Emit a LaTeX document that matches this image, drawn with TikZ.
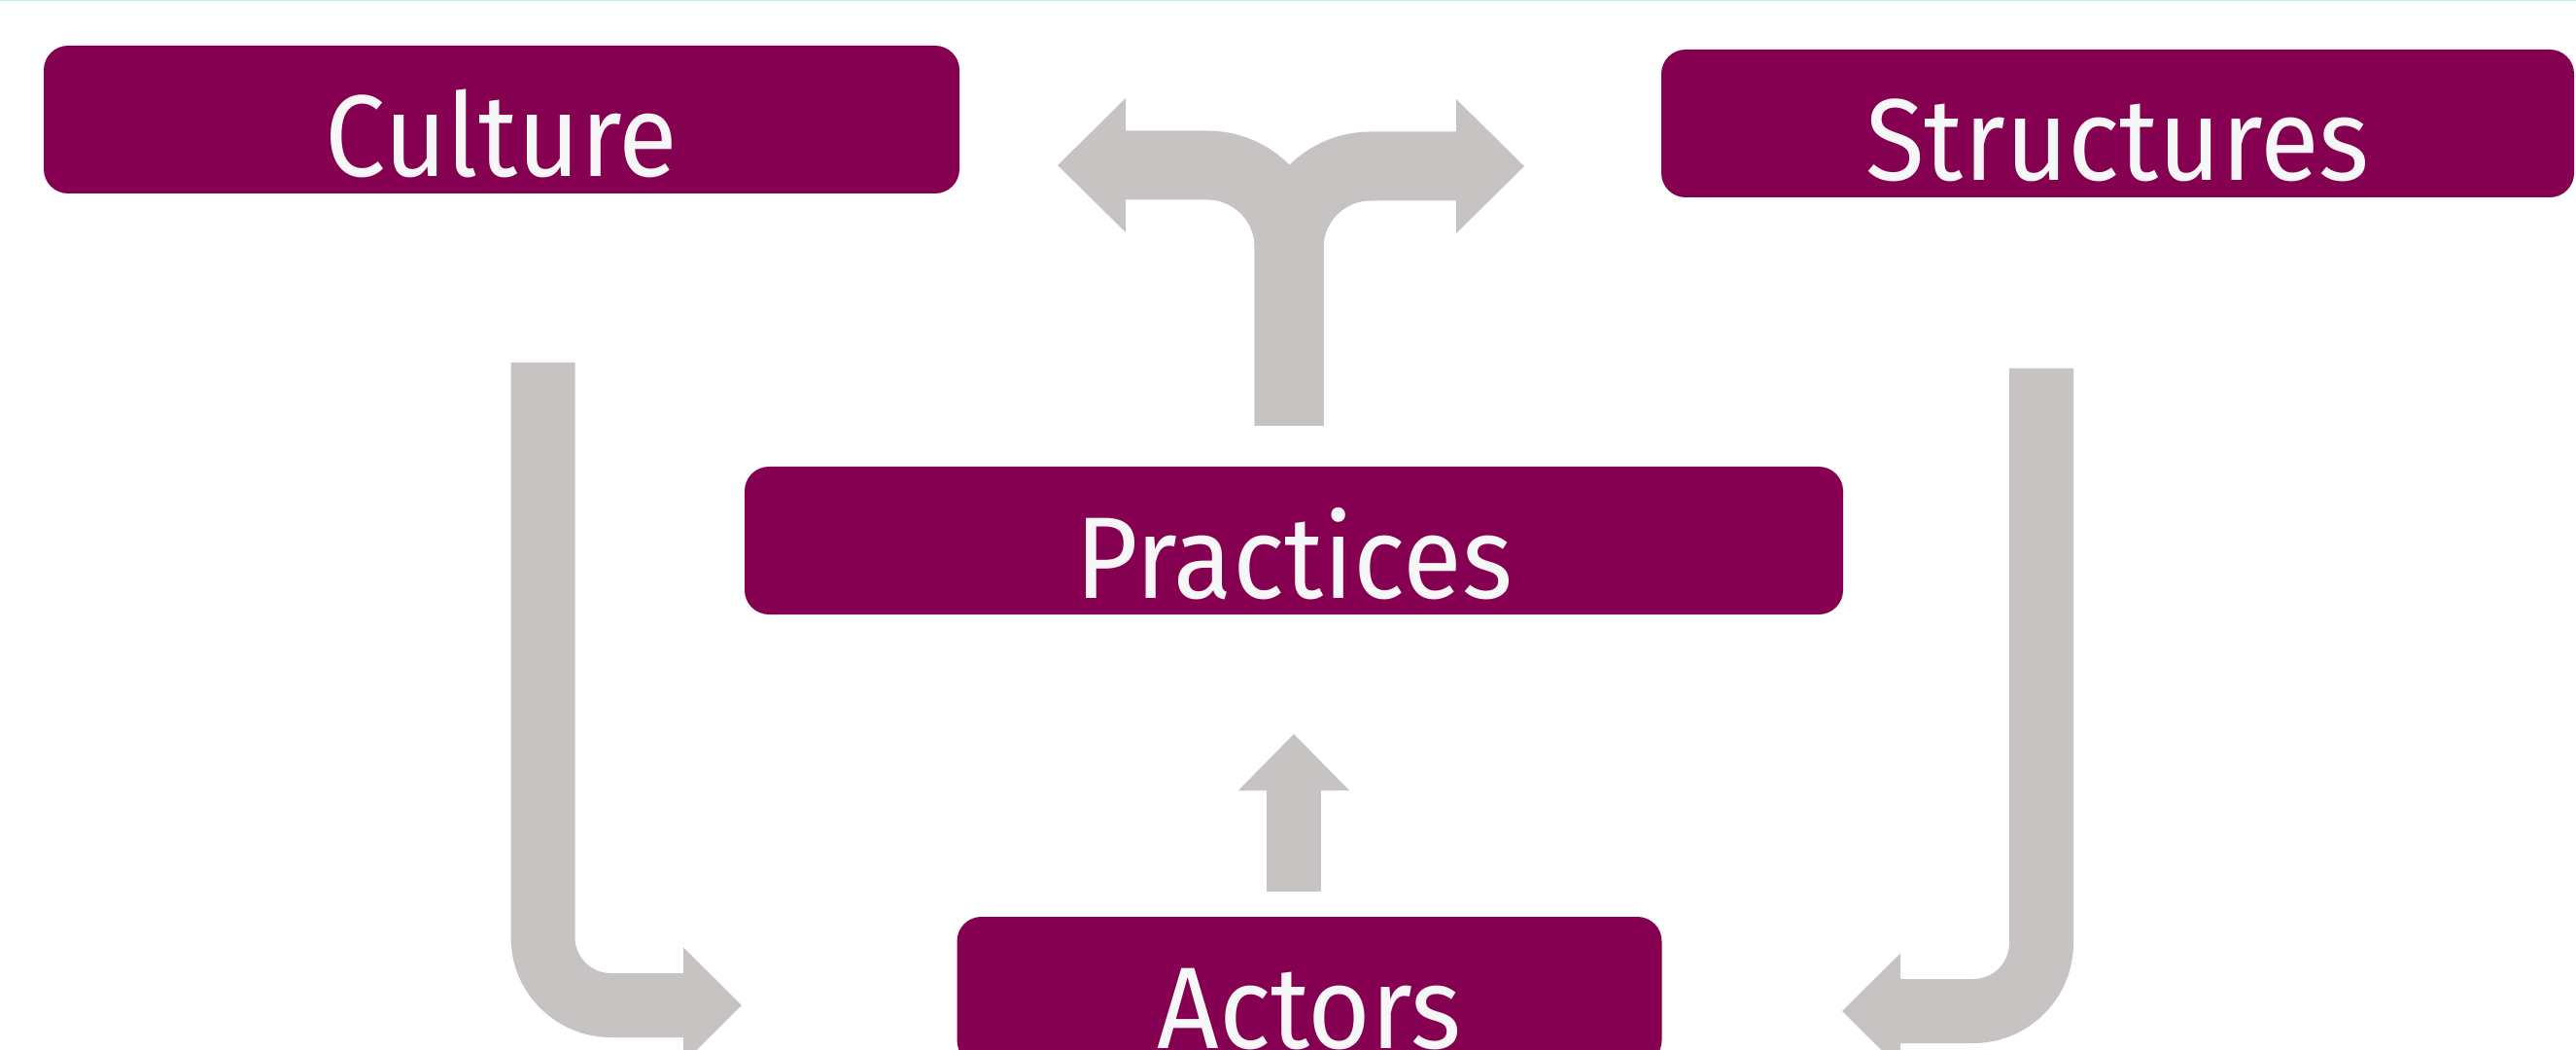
\documentclass[tikz,border=0pt]{standalone}
\usepackage{fontspec}
\setmainfont{Fira Sans}[FakeStretch=0.93]
\usetikzlibrary{arrows.meta}
\definecolor{plum}{RGB}{133,0,80}
\definecolor{flowgrey}{RGB}{200,195,195}
\definecolor{rimblue}{RGB}{197,234,242}

\begin{document}
\begin{tikzpicture}[
    box/.style={fill=plum, rounded corners=0.25cm, text={rgb,255:red,247;green,247;blue,247},
        font=\fontsize{34}{40}\selectfont, inner sep=0pt,
        text height=1.18cm, text depth=0pt, minimum height=1.52cm},
    flow/.style={draw=flowgrey, line width=0.66cm, rounded corners=0.7cm,
        -{Triangle[length=0.60cm, width=1.19cm, line width=0pt]}},
    fork/.style={draw=flowgrey, line width=0.71cm, rounded corners=0.84cm,
        -{Triangle[length=0.70cm, width=1.38cm, line width=0pt]}},
    lift/.style={draw=flowgrey, line width=0.56cm,
        -{Triangle[length=0.58cm, width=1.14cm, line width=0pt]}}
]
    \useasboundingbox (0,0) rectangle (26.5,-10.8);
    \draw[rimblue, line width=0.03cm] (0,0) -- (26.5,0);

    % Boxes
    \node[box, minimum width=9.42cm] (culture) at (5.16,-1.23) {Culture};
    \node[box, minimum width=9.39cm] (structures) at (21.785,-1.27) {Structures};
    \node[box, minimum width=11.30cm] (practices) at (13.31,-5.56) {Practices};
    \node[box, minimum width=7.25cm] (actors) at (13.47,-10.19) {Actors};

    % Arrow ends
    \coordinate (culture-out) at (5.585,-3.73);
    \coordinate (actors-left) at (7.63,-10.34);
    \coordinate (structures-out) at (21.00,-3.79);
    \coordinate (actors-right) at (18.95,-10.40);
    \coordinate (actors-out) at (13.31,-9.17);
    \coordinate (practices-in) at (13.31,-7.55);
    \coordinate (practices-out) at (13.26,-4.38);
    \coordinate (culture-in) at (10.88,-1.70);
    \coordinate (structures-in) at (15.68,-1.71);

    % Arrows
    \draw[flow] (culture-out) |- (actors-left);
    \draw[flow] (structures-out) |- (actors-right);
    \draw[lift] (actors-out) -- (practices-in);
    \draw[fork] (practices-out) |- (culture-in);
    \draw[fork] (practices-out) |- (structures-in);

\end{tikzpicture}
\end{document}
